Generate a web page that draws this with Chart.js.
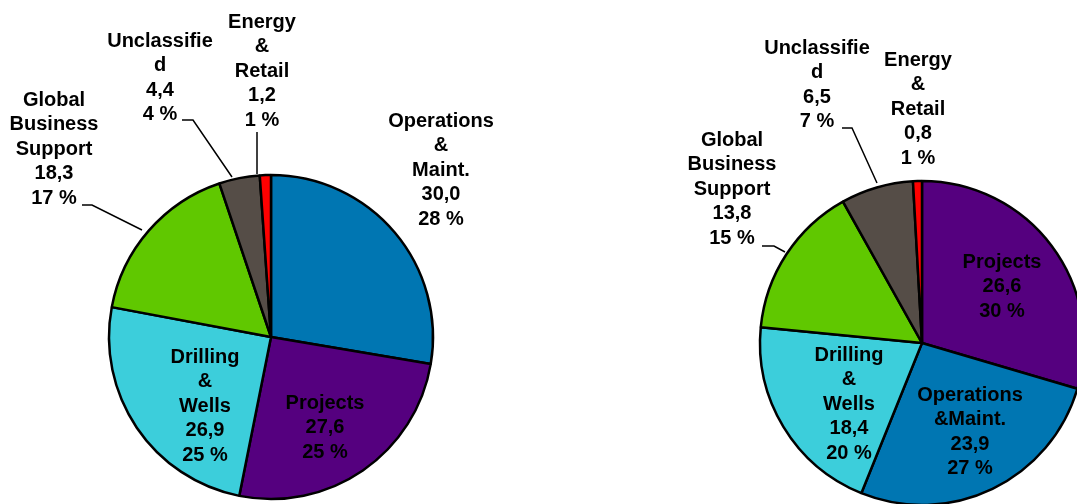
<!DOCTYPE html>
<html>
<head>
<meta charset="utf-8">
<script src="https://cdn.jsdelivr.net/npm/chart.js@4.4.0/dist/chart.umd.min.js"></script>
<style>
  html, body { margin: 0; padding: 0; background: #fff; overflow: hidden; }
  #page { position: relative; width: 1077px; height: 504px; overflow: hidden; }
  canvas { position: absolute; }
  #leftPie { left: 0; top: 0; }
  #rightPie { left: 652px; top: 0; }
</style>
</head>
<body>
<div id="page">
  <canvas id="leftPie" width="542" height="674"></canvas>
  <canvas id="rightPie" width="540" height="686"></canvas>
</div>
<script>
// left pie
const leftLabels = [['Operations', '&', 'Maint.'], ['Projects'], ['Drilling', '&', 'Wells'], ['Global', 'Business', 'Support'], ['Unclassifie', 'd'], ['Energy', '&', 'Retail']];
const leftValues = [30.0, 27.6, 26.9, 18.3, 4.4, 1.2];
const leftColors = ['#0076B2', '#55007F', '#3CCEDB', '#60C800', '#554D47', '#FF0000'];

// right pie
const rightLabels = [['Projects'], ['Operations', '&Maint.'], ['Drilling', '&', 'Wells'], ['Global', 'Business', 'Support'], ['Unclassifie', 'd'], ['Energy', '&', 'Retail']];
const rightValues = [26.6, 23.9, 18.4, 13.8, 6.5, 0.8];
const rightColors = ['#55007F', '#0076B2', '#3CCEDB', '#60C800', '#554D47', '#FF0000'];

// label block positions (relative to pie centre) and leader lines
const leftLabelPos = [[170, -216], [54, 66], [-66, 20], [-217, -237], [-111, -296], [-9, -315]];
const leftLeaders = [null, null, null, [[-189, -132], [-179, -132], [-129, -107]], [[-89, -217], [-78, -217], [-39, -160]], [[-14, -205], [-14, -163]]];
const rightLabelPos = [[80, -81], [48, 52], [-73, 12], [-190, -203], [-105, -295], [-4, -283]];
const rightLeaders = [null, null, null, [[-160, -97], [-148, -97], [-137, -91]], [[-80, -215], [-70, -215], [-45, -160]], null];

const fmt = v => v.toFixed(1).replace('.', ',');

const pieLabels = {
    id: 'pieLabels',
    afterDraw(chart, args, opts) {
        const ctx = chart.ctx;
        const meta = chart.getDatasetMeta(0);
        const cx = meta.data[0].x, cy = meta.data[0].y;
        const values = chart.data.datasets[0].data;
        const total = values.reduce((a, b) => a + b, 0);
        ctx.save();
        ctx.strokeStyle = '#000';
        ctx.lineWidth = 1.5;
        opts.leaders.forEach(pts => {
            if (!pts) return;
            ctx.beginPath();
            pts.forEach((p, i) => i ? ctx.lineTo(cx + p[0], cy + p[1]) : ctx.moveTo(cx + p[0], cy + p[1]));
            ctx.stroke();
        });
        ctx.fillStyle = '#000';
        ctx.font = 'bold 20px "Liberation Sans", Arial, sans-serif';
        ctx.textAlign = 'center';
        ctx.textBaseline = 'middle';
        values.forEach((v, i) => {
            const lines = opts.lines[i].concat([fmt(v), Math.round(v / total * 100) + ' %']);
            const [dx, dy] = opts.pos[i];
            lines.forEach((t, k) => ctx.fillText(t, cx + dx, cy + dy + k * 24.6));
        });
        ctx.restore();
    }
};

function makePie(id, values, colors, lines, pos, leaders) {
    return new Chart(document.getElementById(id), {
        type: 'pie',
        data: {
            labels: lines.map(l => l.join(' ')),
            datasets: [{
                data: values,
                backgroundColor: colors,
                borderColor: '#000',
                borderWidth: 2.5,
                radius: 162
            }]
        },
        options: {
            responsive: false,
            animation: false,
            events: [],
            plugins: {
                legend: { display: false },
                tooltip: { enabled: false },
                pieLabels: { lines: lines, pos: pos, leaders: leaders }
            }
        },
        plugins: [pieLabels]
    });
}

makePie('leftPie', leftValues, leftColors, leftLabels, leftLabelPos, leftLeaders);
makePie('rightPie', rightValues, rightColors, rightLabels, rightLabelPos, rightLeaders);
</script>
</body>
</html>
